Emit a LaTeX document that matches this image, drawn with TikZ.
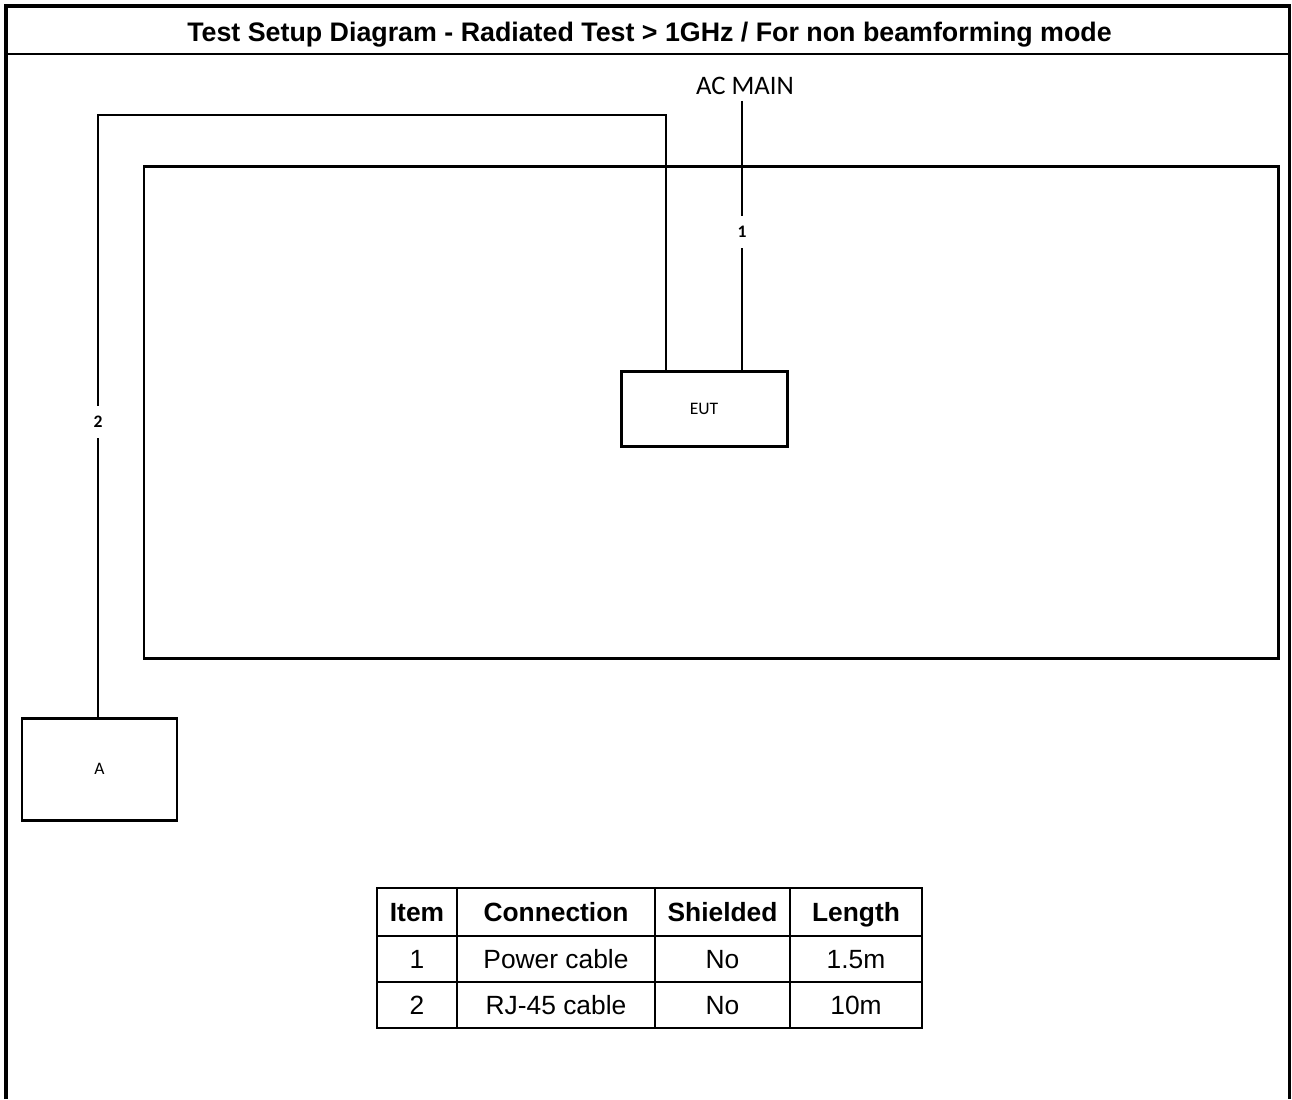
\documentclass[tikz,border=0pt]{standalone}
\usepackage{fontspec}
\setmainfont{Liberation Sans}
\newfontfamily\calibri{Carlito}
\usetikzlibrary{positioning}

\tikzset{
  box/.style={draw, line width=1.7pt, minimum width=33.2mm, minimum height=15mm, font=\calibri\fontsize{10}{12}\selectfont},
  cable/.style={line width=1.15pt},
  cablelabel/.style={fill=white, inner sep=0pt, minimum height=6.4mm, font=\calibri\bfseries\fontsize{10}{12}\selectfont},
  cell/.style={text height=13pt, text depth=2pt, font=\fontsize{15}{18}\selectfont},
  headcell/.style={cell, font=\bfseries\fontsize{15}{18}\selectfont},
}

\begin{document}
\begin{tikzpicture}[x=0.2mm, y=-0.2mm]
\useasboundingbox (0,0) rectangle (1292,1099);

% frame and title
\draw[line width=2.2pt] (6,1099) -- (6,6) -- (1289.5,6) -- (1289.5,1099);
\draw[line width=1.3pt] (6,54) -- (1289.5,54);
\node[headcell, font=\bfseries\fontsize{15.25}{18}\selectfont] (title) at (649.5,32) {Test Setup Diagram - Radiated Test > 1GHz / For non beamforming mode};

% test area
\draw[line width=1.7pt] (144,166) rectangle (1278,658);

% units
\node[box] (eut) at (704,408.5) {EUT};
\node[box, minimum width=31mm, minimum height=20.4mm] (aux) at (99.5,769) {A};
\node[font=\calibri\fontsize{15.2}{18}\selectfont] (acmain) at (745,86) {AC MAIN};

% cable 1: AC MAIN -- EUT
\coordinate (p1) at ([xshift=38*0.2mm]eut.north);
\draw[cable] (p1 |- acmain.south) -- (p1);
\node[cablelabel] (l1) at (742,232) {1};

% cable 2: EUT -- A
\coordinate (p2) at ([xshift=-38*0.2mm]eut.north);
\coordinate (c2) at (98,115);
\draw[cable] (p2) -- (p2 |- c2) -- (c2) -- (c2 |- aux.north);
\node[cablelabel] (l2) at (98,422) {2};

% table
\draw[line width=1.5pt] (377,888) rectangle (922,1028);
\draw[line width=1.2pt] (377,936) -- (922,936);
\draw[line width=1.2pt] (377,982) -- (922,982);
\draw[line width=1.2pt] (457,888) -- (457,1028);
\draw[line width=1.2pt] (655,888) -- (655,1028);
\draw[line width=1.2pt] (790,888) -- (790,1028);

\node[headcell] (hitem) at (417,912) {Item};
\node[headcell] (hconn) at (556,912) {Connection};
\node[headcell] (hshield) at (722.5,912) {Shielded};
\node[headcell] (hlen) at (856,912) {Length};

\node[cell] (item1) at (417,959) {1};
\node[cell] (conn1) at (556,959) {Power cable};
\node[cell] (shield1) at (722.5,959) {No};
\node[cell] (len1) at (856,959) {1.5m};

\node[cell] (item2) at (417,1005) {2};
\node[cell] (conn2) at (556,1005) {RJ-45 cable};
\node[cell] (shield2) at (722.5,1005) {No};
\node[cell] (len2) at (856,1005) {10m};
\end{tikzpicture}
\end{document}
